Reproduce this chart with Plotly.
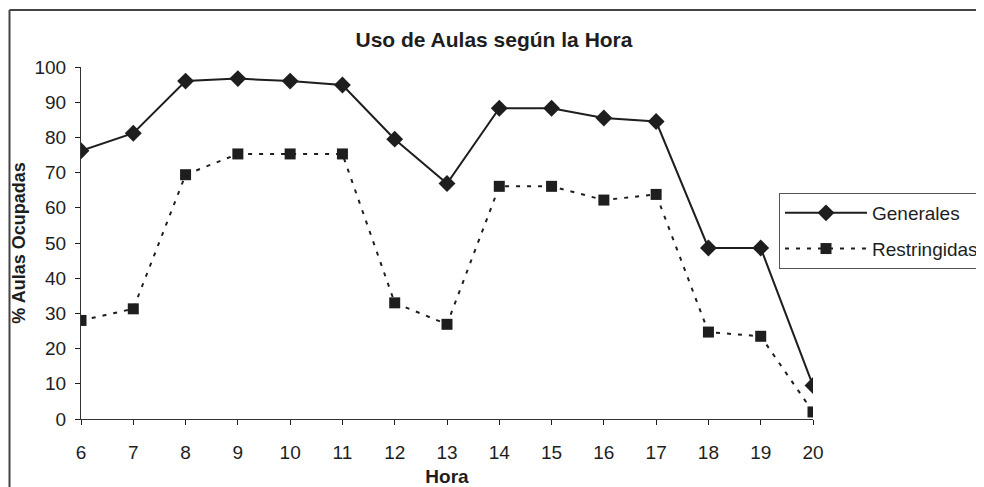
import plotly.graph_objects as go

horas = [6, 7, 8, 9, 10, 11, 12, 13, 14, 15, 16, 17, 18, 19, 20]
generales = [76.2, 81.2, 96.0, 96.7, 96.0, 94.9, 79.5, 66.9, 88.3, 88.3, 85.5, 84.5, 48.6, 48.6, 9.5]
restringidas = [28.0, 31.3, 69.4, 75.3, 75.3, 75.3, 33.0, 26.9, 66.1, 66.1, 62.2, 63.8, 24.7, 23.5, 2.0]
y_ticks = [0, 10, 20, 30, 40, 50, 60, 70, 80, 90, 100]

FONT = "Liberation Sans, Arial, sans-serif"
INK = "#1e1e1e"

OFF = 8  # page body margin
SW, SH = 984, 487               # screenshot size
W, H = SW - OFF, SH - OFF        # figure size
PL, PR, PT, PB = 81, 813, 67, 419  # plot area in screenshot pixels
L, T = PL - OFF, PT - OFF
R, B = W - (PR - OFF), H - (PB - OFF)
pw, ph = PR - PL, PB - PT

def px_x(x):
    return (x - PL) / pw

def px_y(y):
    return (PB - y) / ph

fig = go.Figure()
fig.add_trace(go.Scatter(
    x=horas, y=generales, name="Generales", mode="lines+markers", legendgroup="g",
    line=dict(color=INK, width=2),
    marker=dict(symbol="diamond", size=13, color=INK),
))
fig.add_trace(go.Scatter(
    x=horas, y=restringidas, name="Restringidas", mode="lines+markers", legendgroup="r",
    line=dict(color=INK, width=2, dash="4px,7px"),
    marker=dict(symbol="square", size=11, color=INK),
))

frame = dict(color="#444444", width=2)

fig.update_layout(
    width=W, height=H,
    margin=dict(l=L, r=R, t=T, b=B, pad=0, autoexpand=False),
    paper_bgcolor="white", plot_bgcolor="white",
    font=dict(family=FONT, size=19, color=INK),
    title=dict(text="<b>Uso de Aulas según la Hora</b>", x=(494 - OFF) / W, xanchor="center",
               y=1 - (40 - OFF) / H, yanchor="middle", font=dict(size=21, color=INK)),
    showlegend=True,
    legend=dict(x=px_x(779), y=px_y(193), xanchor="left", yanchor="top",
                bordercolor="#555555", borderwidth=1, bgcolor="white",
                font=dict(size=19, color=INK), itemwidth=82,
                tracegroupgap=8),
    xaxis=dict(range=[6, 20], tickvals=horas, ticks="outside", ticklen=5, tickcolor=INK,
               showline=True, linecolor="#333333", linewidth=1, showgrid=False, zeroline=False,
               automargin=False,
               tickfont=dict(size=19, color=INK), ticklabelstandoff=11,
               title=dict(text="<b>Hora</b>", font=dict(size=19, color=INK), standoff=7)),
    yaxis=dict(range=[0, 100], tickvals=y_ticks, ticks="outside", ticklen=5, tickcolor=INK,
               showline=True, linecolor="#333333", linewidth=1, showgrid=False, zeroline=False,
               automargin=False,
               tickfont=dict(size=19, color=INK), ticklabelstandoff=5,
               title=dict(text="<b>% Aulas Ocupadas</b>", font=dict(size=18, color=INK), standoff=4)),
    shapes=[
        dict(type="line", xref="paper", yref="paper",
             x0=px_x(9.5), x1=px_x(SW + 10), y0=px_y(10), y1=px_y(10),
             line=frame, layer="below"),
        dict(type="line", xref="paper", yref="paper",
             x0=px_x(9.5), x1=px_x(9.5), y0=px_y(10), y1=px_y(SH + 10),
             line=frame, layer="below"),
    ],
)

fig.write_html("out.html")
